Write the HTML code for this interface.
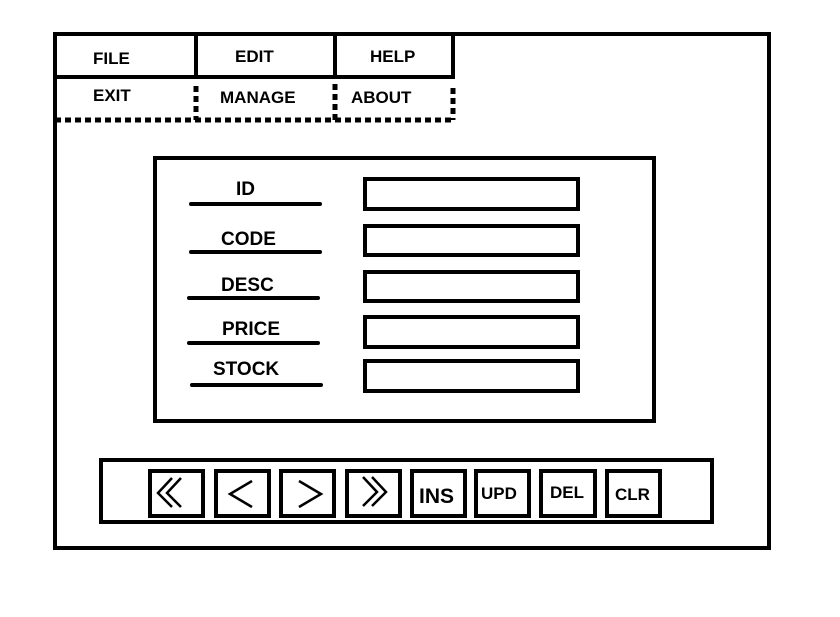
<!DOCTYPE html>
<html><head><meta charset="utf-8"><style>
html,body{margin:0;padding:0;background:#fff;}
svg{display:block;}
text{font-family:"Liberation Sans",sans-serif;font-weight:bold;fill:#000;}
</style></head><body>
<svg width="840" height="617" viewBox="0 0 840 617" xmlns="http://www.w3.org/2000/svg">
<rect x="0" y="0" width="840" height="617" fill="#fff"/>
<g fill="none" stroke="#000" stroke-width="4">
<rect x="55" y="34" width="714" height="514"/>
<line x1="55" y1="77" x2="453" y2="77"/>
<line x1="196" y1="34" x2="196" y2="79"/>
<line x1="335" y1="34" x2="335" y2="79"/>
<line x1="453" y1="34" x2="453" y2="79"/>
</g>
<g stroke="#000" stroke-width="5" stroke-dasharray="6,4">
<line x1="55" y1="120" x2="455" y2="120"/>
<line x1="196" y1="86" x2="196" y2="120"/>
<line x1="335" y1="84" x2="335" y2="120"/>
<line x1="453" y1="88" x2="453" y2="120"/>
</g>
<g font-size="17">
<text x="93" y="64">FILE</text>
<text x="235" y="62">EDIT</text>
<text x="370" y="62">HELP</text>
<text x="93" y="101">EXIT</text>
<text x="220" y="103">MANAGE</text>
<text x="351" y="103">ABOUT</text>
</g>
<rect x="155" y="158" width="499" height="263" fill="none" stroke="#000" stroke-width="4"/>
<g stroke="#000" stroke-width="4" stroke-linecap="round">
<line x1="191" y1="204" x2="320" y2="204"/>
<line x1="191" y1="252" x2="320" y2="252"/>
<line x1="189" y1="298" x2="318" y2="298"/>
<line x1="189" y1="343" x2="318" y2="343"/>
<line x1="192" y1="385" x2="321" y2="385"/>
</g>
<g font-size="19">
<text x="236" y="195">ID</text>
<text x="221" y="245">CODE</text>
<text x="221" y="291">DESC</text>
<text x="222" y="335">PRICE</text>
<text x="213" y="375">STOCK</text>
</g>
<g fill="none" stroke="#000" stroke-width="4">
<rect x="365" y="179" width="213" height="30"/>
<rect x="365" y="226" width="213" height="29"/>
<rect x="365" y="272" width="213" height="29"/>
<rect x="365" y="317" width="213" height="30"/>
<rect x="365" y="361" width="213" height="30"/>
<rect x="101" y="460" width="611" height="62"/>
<rect x="150" y="471" width="53" height="45"/>
<rect x="216" y="471" width="53" height="45"/>
<rect x="281" y="471" width="53" height="45"/>
<rect x="347" y="471" width="53" height="45"/>
<rect x="412" y="471" width="53" height="45"/>
<rect x="476" y="471" width="53" height="45"/>
<rect x="541" y="471" width="54" height="45"/>
<rect x="607" y="471" width="53" height="45"/>
</g>
<g fill="none" stroke="#000" stroke-width="2.5">
<polyline points="172,478 158,493 172,507"/>
<polyline points="181,478 167,493 181,507"/>
<polyline points="252,481 230,494 252,507"/>
<polyline points="299,481 321,494 299,507"/>
<polyline points="363,477 377,492 363,506"/>
<polyline points="372,477 386,492 372,506"/>
</g>
<text x="419" y="503" font-size="21">INS</text>
<text x="481" y="499" font-size="17">UPD</text>
<text x="550" y="498" font-size="17">DEL</text>
<text x="615" y="500" font-size="17">CLR</text>
</svg>
</body></html>
